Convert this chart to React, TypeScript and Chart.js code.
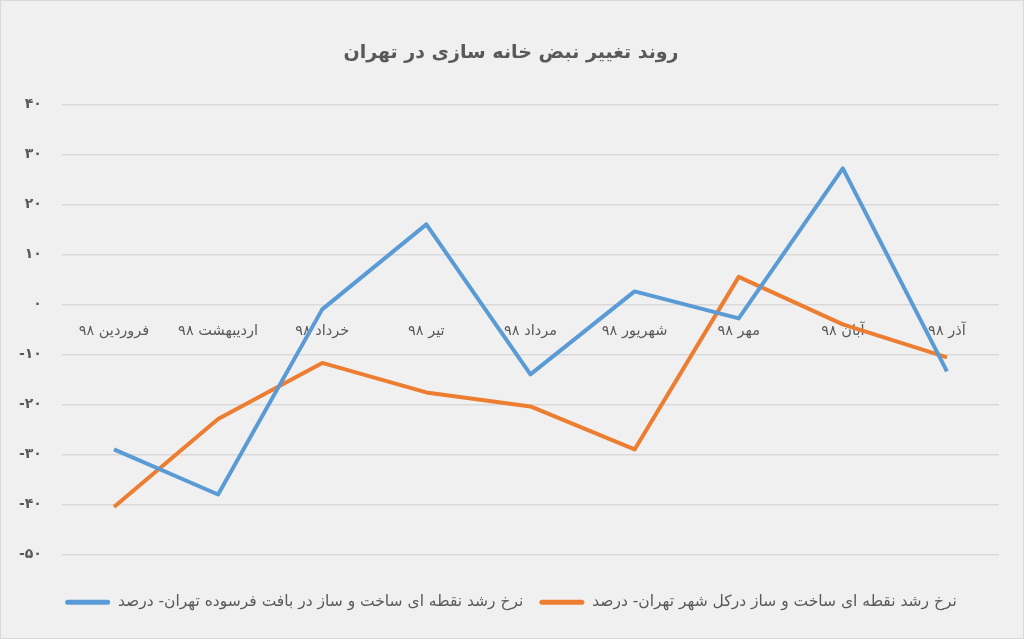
import { useEffect, useRef } from "react";
import { Chart, registerables } from "chart.js";

Chart.register(...registerables);

const months = [
  "فروردین ۹۸",
  "اردیبهشت ۹۸",
  "خرداد ۹۸",
  "تیر ۹۸",
  "مرداد ۹۸",
  "شهریور ۹۸",
  "مهر ۹۸",
  "آبان ۹۸",
  "آذر ۹۸",
];

// بافت فرسوده
const oldFabric = [-29, -38, -1, 16, -14, 2.6, -2.8, 27.2, -13.4];
// کل شهر
const wholeCity = [-40.5, -22.9, -11.7, -17.6, -20.4, -29, 5.5, -4, -10.6];

const seriesNames = [
  "نرخ رشد نقطه ای ساخت و ساز در بافت فرسوده تهران- درصد",
  "نرخ رشد نقطه ای ساخت و ساز درکل شهر تهران- درصد",
];

const yMin = -50;
const yMax = 40;
const yStep = 10;

const faDigits = ["۰", "۱", "۲", "۳", "۴", "۵", "۶", "۷", "۸", "۹"];
const toFa = (v: number) => String(v).replace(/\d/g, (d) => faDigits[+d]);

const FONT = "'DejaVu Sans', sans-serif";

const App: React.FC = () => {
  const chartRef = useRef<HTMLCanvasElement | null>(null);
  const chartInstanceRef = useRef<Chart<"line"> | null>(null);

  useEffect(() => {
    if (!chartRef.current) return;
    const ctx = chartRef.current.getContext("2d");
    if (!ctx) return;
    if (chartInstanceRef.current) chartInstanceRef.current.destroy();

    chartInstanceRef.current = new Chart(ctx, {
      type: "line",
      data: {
        labels: months,
        datasets: [
          {
            label: seriesNames[0],
            data: oldFabric,
            borderColor: "#5B9BD5",
            backgroundColor: "#5B9BD5",
            borderWidth: 4,
            pointRadius: 0,
            tension: 0,
            borderJoinStyle: "round",
          },
          {
            label: seriesNames[1],
            data: wholeCity,
            borderColor: "#ED7D31",
            backgroundColor: "#ED7D31",
            borderWidth: 4,
            pointRadius: 0,
            tension: 0,
            borderJoinStyle: "round",
          },
        ],
      },
      options: {
        animation: false,
        responsive: true,
        maintainAspectRatio: false,
        layout: { padding: { left: -2, right: 0, top: 0, bottom: 18 } },
        scales: {
          x: {
            position: { y: 0 },
            offset: true,
            grid: { display: false },
            border: { display: false },
            ticks: {
              autoSkip: false,
              maxRotation: 0,
              padding: 10,
              color: "#595959",
              font: { family: FONT, size: 14.5 },
            },
          },
          y: {
            min: yMin,
            max: yMax,
            ticks: {
              stepSize: yStep,
              padding: 20,
              color: "#595959",
              font: { family: FONT, size: 14, weight: "bold" },
              callback: (v) => toFa(Number(v)),
            },
            grid: { color: "#d9d9d9", lineWidth: 1.5, drawTicks: false },
            border: { display: false },
          },
          // empty right margin, keeps title and legend centred on the page
          yRight: {
            position: "right",
            min: yMin,
            max: yMax,
            grid: { display: false },
            border: { display: false },
            ticks: { display: false },
            afterFit: (scale) => {
              scale.width = 24;
            },
          },
        },
        plugins: {
          title: {
            display: true,
            text: "روند تغییر نبض خانه سازی در تهران",
            color: "#595959",
            font: { family: FONT, size: 19, weight: "bold" },
            padding: { top: 40.5, bottom: 40 },
          },
          legend: {
            position: "bottom",
            title: {
              display: true,
              text: "",
              font: { family: FONT, size: 4, lineHeight: 1 },
              padding: { top: 20, bottom: 0 },
            },
            labels: {
              color: "#595959",
              font: { family: FONT, size: 15.5 },
              boxWidth: 45,
              boxHeight: 5,
              padding: 16,
              useBorderRadius: true,
              borderRadius: 2.5,
              generateLabels: (chart) =>
                Chart.defaults.plugins.legend.labels
                  .generateLabels(chart)
                  .map((l) => ({ ...l, lineWidth: 0 })),
            },
          },
          tooltip: { enabled: false },
        },
      },
    });

    return () => {
      if (chartInstanceRef.current) {
        chartInstanceRef.current.destroy();
        chartInstanceRef.current = null;
      }
    };
  }, []);

  return (
    <div
      style={{
        width: 1024,
        height: 639,
        boxSizing: "border-box",
        border: "1px solid #d9d9d9",
        background: "#f0f0f0",
      }}
    >
      <style>{"body{margin:0}"}</style>
      <div style={{ position: "relative", width: "100%", height: "100%" }}>
        <canvas ref={chartRef} />
      </div>
    </div>
  );
};

export default App;
